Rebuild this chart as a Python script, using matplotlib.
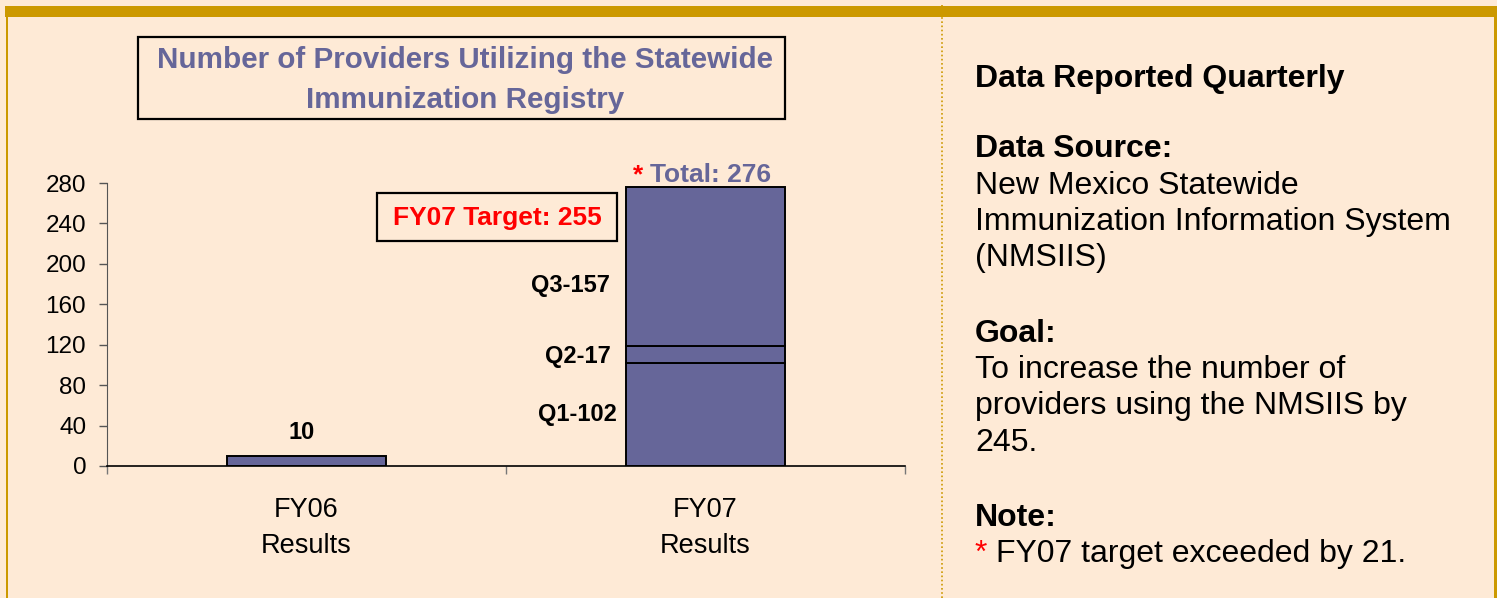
import matplotlib.pyplot as plt
from matplotlib.patches import Rectangle
from matplotlib.lines import Line2D

plt.rcParams['font.family'] = ['Liberation Sans', 'DejaVu Sans']

# data
categories = ['FY06\nResults', 'FY07\nResults']
first_segment = [10, 102]   # FY06 result, FY07 Q1
fy07_q2 = 17
fy07_q3 = 157
quarters = ['Q1', 'Q2', 'Q3']
fy07_target = 255
yticks = [0, 40, 80, 120, 160, 200, 240, 280]

bar_color = '#666699'
bg = '#FEEAD6'
gold = '#CC9900'

W, H = 1497, 598


def fx(px):
    return px / W


def fy(py):
    return 1 - py / H


fig = plt.figure(figsize=(W / 100, H / 100), dpi=100, facecolor=bg)

# frame decorations
fig.patches.append(Rectangle((fx(5), fy(17)), 1 - fx(5), fy(6) - fy(17),
                             transform=fig.transFigure, color=gold, lw=0))
fig.patches.append(Rectangle((fx(5.5), 0), fx(2.5), fy(17),
                             transform=fig.transFigure, color=gold, lw=0))
fig.patches.append(Rectangle((fx(1494), 0), fx(2.5), fy(17),
                             transform=fig.transFigure, color=gold, lw=0))
fig.lines.append(Line2D([fx(942), fx(942)], [0, fy(5)], transform=fig.transFigure,
                        color=gold, lw=1.2, ls=(0, (1, 1.5))))

# chart
ax = fig.add_axes([fx(107), fy(466), fx(905) - fx(107), fy(183) - fy(466)])
ax.patch.set_alpha(0)
x = [0, 1]
bw = 0.4
ax.bar(x, first_segment, width=bw, color=bar_color, edgecolor='black', linewidth=1.4, zorder=3)
ax.bar(1, fy07_q2, bottom=first_segment[1], width=bw, color=bar_color,
       edgecolor='black', linewidth=1.4, zorder=3)
ax.bar(1, fy07_q3, bottom=first_segment[1] + fy07_q2, width=bw, color=bar_color,
       edgecolor='black', linewidth=1.4, zorder=3)

ax.set_xlim(-0.5, 1.5)
ax.set_ylim(0, 280)
ax.set_yticks(yticks)
ax.tick_params(axis='y', length=6, width=1, color='#555555', pad=9, labelsize=17.5)
ax.set_xticks([-0.5, 0.5, 1.5])
ax.set_xticklabels([])
ax.tick_params(axis='x', which='major', length=6, width=1, color='#777777')
ax.set_xticks(x, minor=True)
ax.set_xticklabels(categories, minor=True, fontsize=19.5, linespacing=1.5)
ax.tick_params(axis='x', which='minor', length=0, pad=22)
for s in ['top', 'right']:
    ax.spines[s].set_visible(False)
ax.spines['left'].set_color('#555555')
ax.spines['bottom'].set_color('black')
ax.spines['bottom'].set_linewidth(1.2)

# value labels
ax.annotate(str(first_segment[0]), xy=(0, first_segment[0]), xytext=(-5, 17),
            textcoords='offset pixels', ha='center', va='baseline',
            fontsize=17, fontweight='bold')

seg_vals = [first_segment[1], fy07_q2, fy07_q3]
offsets = [(-9, -6.5), (-15, -8.7), (-16, -25.6)]
bottom = 0
for q, v, off in zip(quarters, seg_vals, offsets):
    ax.annotate(f'{q}-{v}', xy=(1 - bw / 2, bottom + v / 2), xytext=off,
                textcoords='offset pixels', ha='right', va='baseline',
                fontsize=17, fontweight='bold')
    bottom += v

total = sum(seg_vals)
ax.annotate('*', xy=(1, total), xytext=(-73, 5), textcoords='offset pixels',
            ha='left', va='baseline', fontsize=19, fontweight='bold', color='red')
ax.annotate(f'Total: {total}', xy=(1, total), xytext=(-56, 5), textcoords='offset pixels',
            ha='left', va='baseline', fontsize=19, fontweight='bold', color=bar_color)

# target box
fig.patches.append(Rectangle((fx(377), fy(241)), fx(617) - fx(377), fy(193) - fy(241),
                             transform=fig.transFigure, fill=False, ec='black', lw=1.6))
fig.text(fx(497), fy(225), f'FY07 Target: {fy07_target}', ha='center', va='baseline',
         fontsize=19, fontweight='bold', color='red')

# title box
fig.patches.append(Rectangle((fx(138), fy(119)), fx(785) - fx(138), fy(37) - fy(119),
                             transform=fig.transFigure, fill=False, ec='black', lw=1.6))
fig.text(fx(465), fy(68), 'Number of Providers Utilizing the Statewide', ha='center',
         va='baseline', fontsize=21.3, fontweight='bold', color=bar_color)
fig.text(fx(465), fy(108), 'Immunization Registry', ha='center',
         va='baseline', fontsize=21.3, fontweight='bold', color=bar_color)

# right panel
panel = [
    ('Data Reported Quarterly', 87, 'bold'),
    ('Data Source:', 157, 'bold'),
    ('New Mexico Statewide', 194, 'normal'),
    ('Immunization Information System', 230, 'normal'),
    ('(NMSIIS)', 266, 'normal'),
    ('Goal:', 342, 'bold'),
    ('To increase the number of', 378, 'normal'),
    ('providers using the NMSIIS by', 414, 'normal'),
    ('245.', 451, 'normal'),
    ('Note:', 526, 'bold'),
]
for txt, y, w in panel:
    fig.text(fx(975), fy(y), txt, ha='left', va='baseline', fontsize=23, fontweight=w)
fig.text(fx(975), fy(562), '*', ha='left', va='baseline', fontsize=23, color='red')
fig.text(fx(996), fy(562), 'FY07 target exceeded by 21.', ha='left', va='baseline', fontsize=23)

fig.savefig('out.png', dpi=100, facecolor=bg)
